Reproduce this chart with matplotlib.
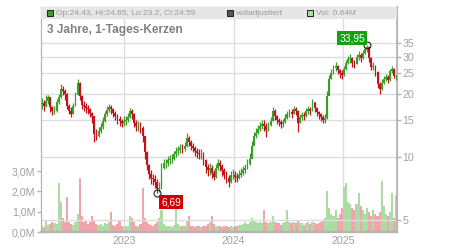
import numpy as np
import pandas as pd
import matplotlib
matplotlib.use("Agg")
import matplotlib.pyplot as plt
from matplotlib.patches import Rectangle
from matplotlib.ticker import FixedLocator, NullLocator

plt.rcParams['font.family'] = ['Liberation Sans', 'DejaVu Sans']

# weekly candles
weeks = pd.date_range("2022-04-01", periods=170, freq="7D")
closes = [
    18.0, 17.5, 18.5, 19.3, 17.2, 16.5, 16.6, 18.2, 19.3, 21.0,
    20.5, 20.0, 17.5, 16.5, 16.0, 17.5, 19.8, 22.5, 19.5, 17.6,
    17.5, 17.0, 16.8, 16.2, 15.6, 12.8, 12.6, 13.2, 13.8, 14.8,
    15.9, 16.7, 17.3, 16.8, 16.1, 15.7, 15.1, 14.8, 14.5, 14.8,
    15.0, 15.5, 16.5, 16.0, 14.5, 14.0, 14.0, 13.7, 12.5, 10.5,
    9.1, 8.3, 7.9, 7.8, 7.6, 7.0, 7.1, 8.8, 9.3, 9.3,
    9.6, 9.7, 9.8, 10.3, 10.6, 10.8, 11.0, 10.9, 11.3, 12.3,
    11.8, 11.3, 11.0, 10.6, 10.4, 10.3, 10.3, 9.6, 8.9, 8.6,
    8.8, 8.4, 8.0, 8.8, 9.3, 9.0, 8.6, 8.2, 7.9, 7.6,
    8.2, 8.2, 8.0, 7.9, 8.2, 8.4, 8.6, 8.8, 9.2, 9.8,
    11.3, 12.5, 13.0, 13.6, 14.0, 14.3, 14.0, 13.4, 14.1, 14.8,
    16.6, 15.6, 14.9, 14.6, 14.3, 14.6, 15.3, 16.0, 16.3, 16.0,
    16.9, 16.6, 14.5, 15.5, 15.8, 15.6, 16.5, 16.8, 16.6, 18.2,
    17.0, 16.3, 15.9, 15.5, 15.0, 15.3, 19.5, 23.5, 25.2, 26.4,
    27.0, 26.0, 25.0, 24.6, 26.2, 28.0, 29.2, 29.5, 28.0, 27.8,
    30.0, 30.5, 29.5, 31.3, 32.5, 33.4, 29.5, 26.8, 27.0, 25.3,
    22.3, 21.0, 22.5, 23.5, 24.0, 23.2, 25.5, 26.3, 24.4, 24.59,
]
highs = [
    19.0, 18.6, 19.7, 19.8, 18.8, 17.4, 17.5, 18.9, 20.0, 22.2,
    21.8, 21.0, 20.1, 17.8, 17.2, 18.0, 20.4, 23.6, 22.8, 19.8,
    18.4, 18.0, 17.6, 17.1, 16.4, 15.7, 13.5, 13.9, 14.5, 15.5,
    16.6, 17.4, 17.8, 17.6, 17.1, 16.5, 15.9, 15.6, 15.2, 15.6,
    15.7, 16.2, 17.0, 16.9, 16.2, 14.9, 14.8, 14.6, 14.0, 12.6,
    10.6, 9.2, 8.6, 8.3, 8.2, 7.8, 7.6, 9.3, 9.8, 9.8,
    10.1, 10.2, 10.3, 10.7, 11.1, 11.3, 11.5, 11.5, 11.8, 13.0,
    12.6, 12.0, 11.6, 11.3, 11.0, 10.9, 10.9, 10.5, 9.8, 9.2,
    9.3, 9.1, 8.6, 9.2, 9.7, 9.6, 9.2, 8.8, 8.5, 8.2,
    8.5, 8.7, 8.5, 8.4, 8.6, 8.8, 9.0, 9.2, 9.7, 10.4,
    11.9, 13.1, 13.7, 14.2, 14.7, 15.0, 15.0, 14.4, 14.7, 15.4,
    17.2, 16.8, 15.8, 15.3, 15.0, 15.2, 15.9, 16.6, 16.9, 16.8,
    17.5, 17.3, 16.7, 16.0, 16.4, 16.3, 17.0, 17.4, 17.3, 18.9,
    18.3, 17.2, 16.6, 16.2, 15.8, 16.0, 20.5, 24.5, 26.3, 27.5,
    28.2, 27.4, 26.3, 25.8, 27.0, 29.0, 30.3, 30.8, 29.8, 28.9,
    31.0, 31.8, 31.2, 32.2, 33.3, 33.95, 33.6, 29.8, 28.2, 27.4,
    25.6, 22.6, 23.4, 24.4, 24.9, 24.6, 26.2, 27.0, 26.5, 24.65,
]
lows = [
    16.8, 16.6, 17.3, 17.8, 16.3, 15.8, 15.9, 16.4, 17.9, 19.1,
    19.6, 18.6, 16.8, 15.9, 15.4, 15.9, 17.4, 19.7, 18.6, 16.9,
    16.6, 16.2, 16.0, 15.5, 14.4, 11.8, 12.0, 12.4, 13.0, 13.6,
    14.7, 15.7, 16.3, 16.0, 15.4, 15.0, 14.3, 14.0, 13.8, 14.0,
    14.2, 14.6, 15.3, 15.2, 13.8, 13.3, 13.2, 13.0, 11.8, 9.8,
    8.6, 7.8, 7.4, 7.3, 7.1, 6.69, 6.8, 7.0, 8.7, 8.8,
    9.0, 9.2, 9.3, 9.6, 10.0, 10.2, 10.4, 10.4, 10.6, 11.1,
    11.2, 10.8, 10.5, 10.1, 9.9, 9.8, 9.7, 9.1, 8.4, 8.1,
    8.2, 7.9, 7.7, 7.9, 8.6, 8.5, 8.1, 7.8, 7.5, 7.2,
    7.5, 7.8, 7.6, 7.6, 7.8, 8.0, 8.2, 8.4, 8.7, 9.1,
    9.9, 11.4, 12.3, 12.8, 13.3, 13.6, 13.2, 12.4, 13.2, 14.0,
    14.8, 14.9, 14.3, 14.0, 13.7, 13.9, 14.5, 15.2, 15.5, 15.3,
    15.9, 15.8, 13.1, 14.4, 15.0, 14.9, 15.5, 16.0, 15.8, 16.5,
    16.3, 15.6, 15.2, 14.8, 14.4, 14.5, 15.2, 19.8, 23.6, 24.8,
    25.6, 24.8, 23.8, 23.5, 24.4, 26.0, 27.6, 28.0, 26.8, 26.6,
    27.8, 29.0, 28.2, 29.4, 30.8, 31.6, 28.4, 25.8, 25.9, 24.2,
    21.3, 20.0, 20.8, 22.2, 22.9, 22.4, 23.0, 25.0, 23.8, 23.2,
]
first_open = 17.8
volumes = [  # millions
    0.3, 0.25, 0.6, 0.35, 0.4, 0.5, 0.45, 0.4, 2.4, 1.5,
    0.7, 0.5, 1.7, 0.5, 0.4, 0.35, 0.5, 0.9, 2.65, 0.8,
    0.5, 0.6, 0.4, 0.5, 0.8, 0.6, 0.4, 0.35, 0.4, 0.3,
    0.45, 0.4, 0.5, 1.0, 0.35, 0.3, 0.4, 0.6, 0.3, 0.25,
    0.3, 0.3, 0.8, 0.7, 0.5, 0.3, 0.3, 0.4, 2.15, 0.7,
    0.5, 0.4, 0.35, 0.3, 0.4, 0.5, 0.7, 1.1, 0.4, 0.3,
    0.3, 0.3, 0.25, 0.35, 1.4, 0.4, 0.3, 0.3, 0.3, 0.6,
    0.8, 0.3, 0.3, 0.25, 0.3, 0.3, 0.25, 0.3, 0.3, 0.4,
    0.5, 0.8, 0.4, 0.3, 0.3, 0.3, 0.25, 0.3, 0.3, 0.25,
    0.3, 0.25, 0.3, 0.3, 0.35, 0.35, 0.4, 0.5, 0.4, 0.5,
    0.7, 0.6, 0.5, 0.45, 0.5, 0.45, 1.1, 0.5, 0.45, 0.5,
    0.8, 0.5, 0.45, 0.45, 0.35, 0.45, 0.5, 1.1, 0.5, 0.45,
    0.5, 0.45, 0.6, 0.45, 0.45, 0.35, 0.45, 0.5, 0.4, 0.5,
    0.45, 0.4, 0.45, 0.5, 0.6, 0.7, 2.0, 1.2, 0.9, 0.8,
    1.1, 0.7, 0.9, 1.2, 2.2, 2.4, 1.5, 1.4, 1.2, 1.1,
    1.4, 1.9, 1.3, 1.1, 0.9, 1.2, 1.0, 0.8, 1.1, 0.9,
    0.8, 1.0, 2.5, 1.3, 0.9, 0.8, 1.0, 1.9, 0.7, 1.8,
]
hi_val, hi_idx = 33.95, 155
lo_val, lo_idx = 6.69, 55
price_ticks = [5, 10, 15, 20, 25, 30, 35]
vol_ticks = [0, 1, 2, 3]
years = [2023, 2024, 2025]
header = "Op:24.43, Hi:24.65, Lo:23.2, Cl:24.59"
title = "3 Jahre, 1-Tages-Kerzen"

GREEN = "#3a9e28"
RED = "#c4121c"
VGREEN = "#acdca4"
VRED = "#f0a4ac"
GRID = "#dddddd"
TXT = "#a0a0a0"

opens = [first_open] + closes[:-1]
o = np.array(opens)
c = np.array(closes)
up = c >= o
ccol = [GREEN if u else RED for u in up]

fig = plt.figure(figsize=(4.5, 2.5), dpi=100)
ax = fig.add_axes([41 / 450, 18 / 250, 356 / 450, 225 / 250])
ax2 = ax.twinx()

# volume
ax.bar(weeks, volumes, width=7, color=[VGREEN if u else VRED for u in up], linewidth=0, zorder=2)
ax.set_ylim(0, 11.08)
ax.set_yticks(vol_ticks)
ax.set_yticklabels(["%d,0M" % v for v in vol_ticks])

# candles
lo_b = np.minimum(o, c)
hi_b = np.maximum(o, c)
ax2.vlines(weeks, lows, highs, colors=ccol, linewidth=0.9, zorder=3)
ax2.bar(weeks, hi_b - lo_b, bottom=lo_b, width=6, color=ccol, linewidth=0, zorder=3)
ax2.set_yscale("log")
ax2.set_ylim(4.37, 51.8)
ax2.yaxis.set_major_locator(FixedLocator(price_ticks))
ax2.yaxis.set_minor_locator(NullLocator())
ax2.set_yticklabels([str(t) for t in price_ticks])
ax2.grid(True, axis="y", color=GRID, linewidth=1, zorder=1)
ax.grid(True, axis="x", color=GRID, linewidth=1, zorder=0)
ax.set_axisbelow(True)
ax2.set_axisbelow(True)

ax.set_xlim(pd.Timestamp("2022-03-29"), pd.Timestamp("2025-06-29"))
ax.set_xticks([pd.Timestamp("%d-01-01" % y) for y in years])
ax.set_xticklabels([str(y) for y in years])

for a in (ax, ax2):
    for s in a.spines.values():
        s.set_color("#b4b4b4")
    a.tick_params(colors="#b4b4b4", labelcolor=TXT, labelsize=7.7, length=3, width=1)
ax.spines["bottom"].set_linewidth(1.6)
ax2.spines["right"].set_linewidth(1.2)
ax.tick_params(axis="x", length=0, pad=3)
ax.tick_params(axis="y", pad=1)
ax2.tick_params(axis="y", pad=1)

# markers for extremes
ax2.plot([weeks[hi_idx]], [hi_val], marker="o", ms=5, mfc="none", mec="#222222", mew=0.8, zorder=5)
ax2.plot([weeks[lo_idx]], [lo_val], marker="o", ms=5, mfc="none", mec="#222222", mew=0.8, zorder=5)
ax2.annotate("33,95", (weeks[hi_idx], hi_val), xytext=(-1.5, 1.5), textcoords="offset points",
             ha="right", va="bottom", fontsize=7.3, color="white", zorder=6,
             bbox=dict(boxstyle="square,pad=0.2", fc="#16a016", ec="none"))
ax2.annotate("6,69", (weeks[lo_idx], lo_val), xytext=(3, -3), textcoords="offset points",
             ha="left", va="top", fontsize=7.3, color="white", zorder=6,
             bbox=dict(boxstyle="square,pad=0.2", fc="#d00000", ec="none"))

# header band and legend
ax2.add_patch(Rectangle((0, 1 - 12 / 225), 1, 12 / 225, transform=ax2.transAxes,
                        fc="#e6e6e6", ec="none", zorder=7, clip_on=False))
sq_w, sq_h = 6 / 356, 6 / 225
yb = 1 - 9.5 / 225
for x0, fc, txt in [(6 / 356, GREEN, header), (186 / 356, "#555555", "volladjustiert"),
                    (266 / 356, VGREEN, "Vol: 0.64M")]:
    ax2.add_patch(Rectangle((x0, yb), sq_w, sq_h, transform=ax2.transAxes,
                            fc=fc, ec="#222222", lw=0.7, zorder=8, clip_on=False))
    ax2.text(x0 + 9 / 356, yb + sq_h / 2, txt, transform=ax2.transAxes, fontsize=6.0,
             color="#999999", va="center", ha="left", zorder=8)
ax2.text(6 / 356, 1 - 23 / 225, title, transform=ax2.transAxes, fontsize=8.6,
         fontweight="bold", color="#808080", va="center", ha="left", zorder=8)

fig.savefig("out.png", dpi=100)
